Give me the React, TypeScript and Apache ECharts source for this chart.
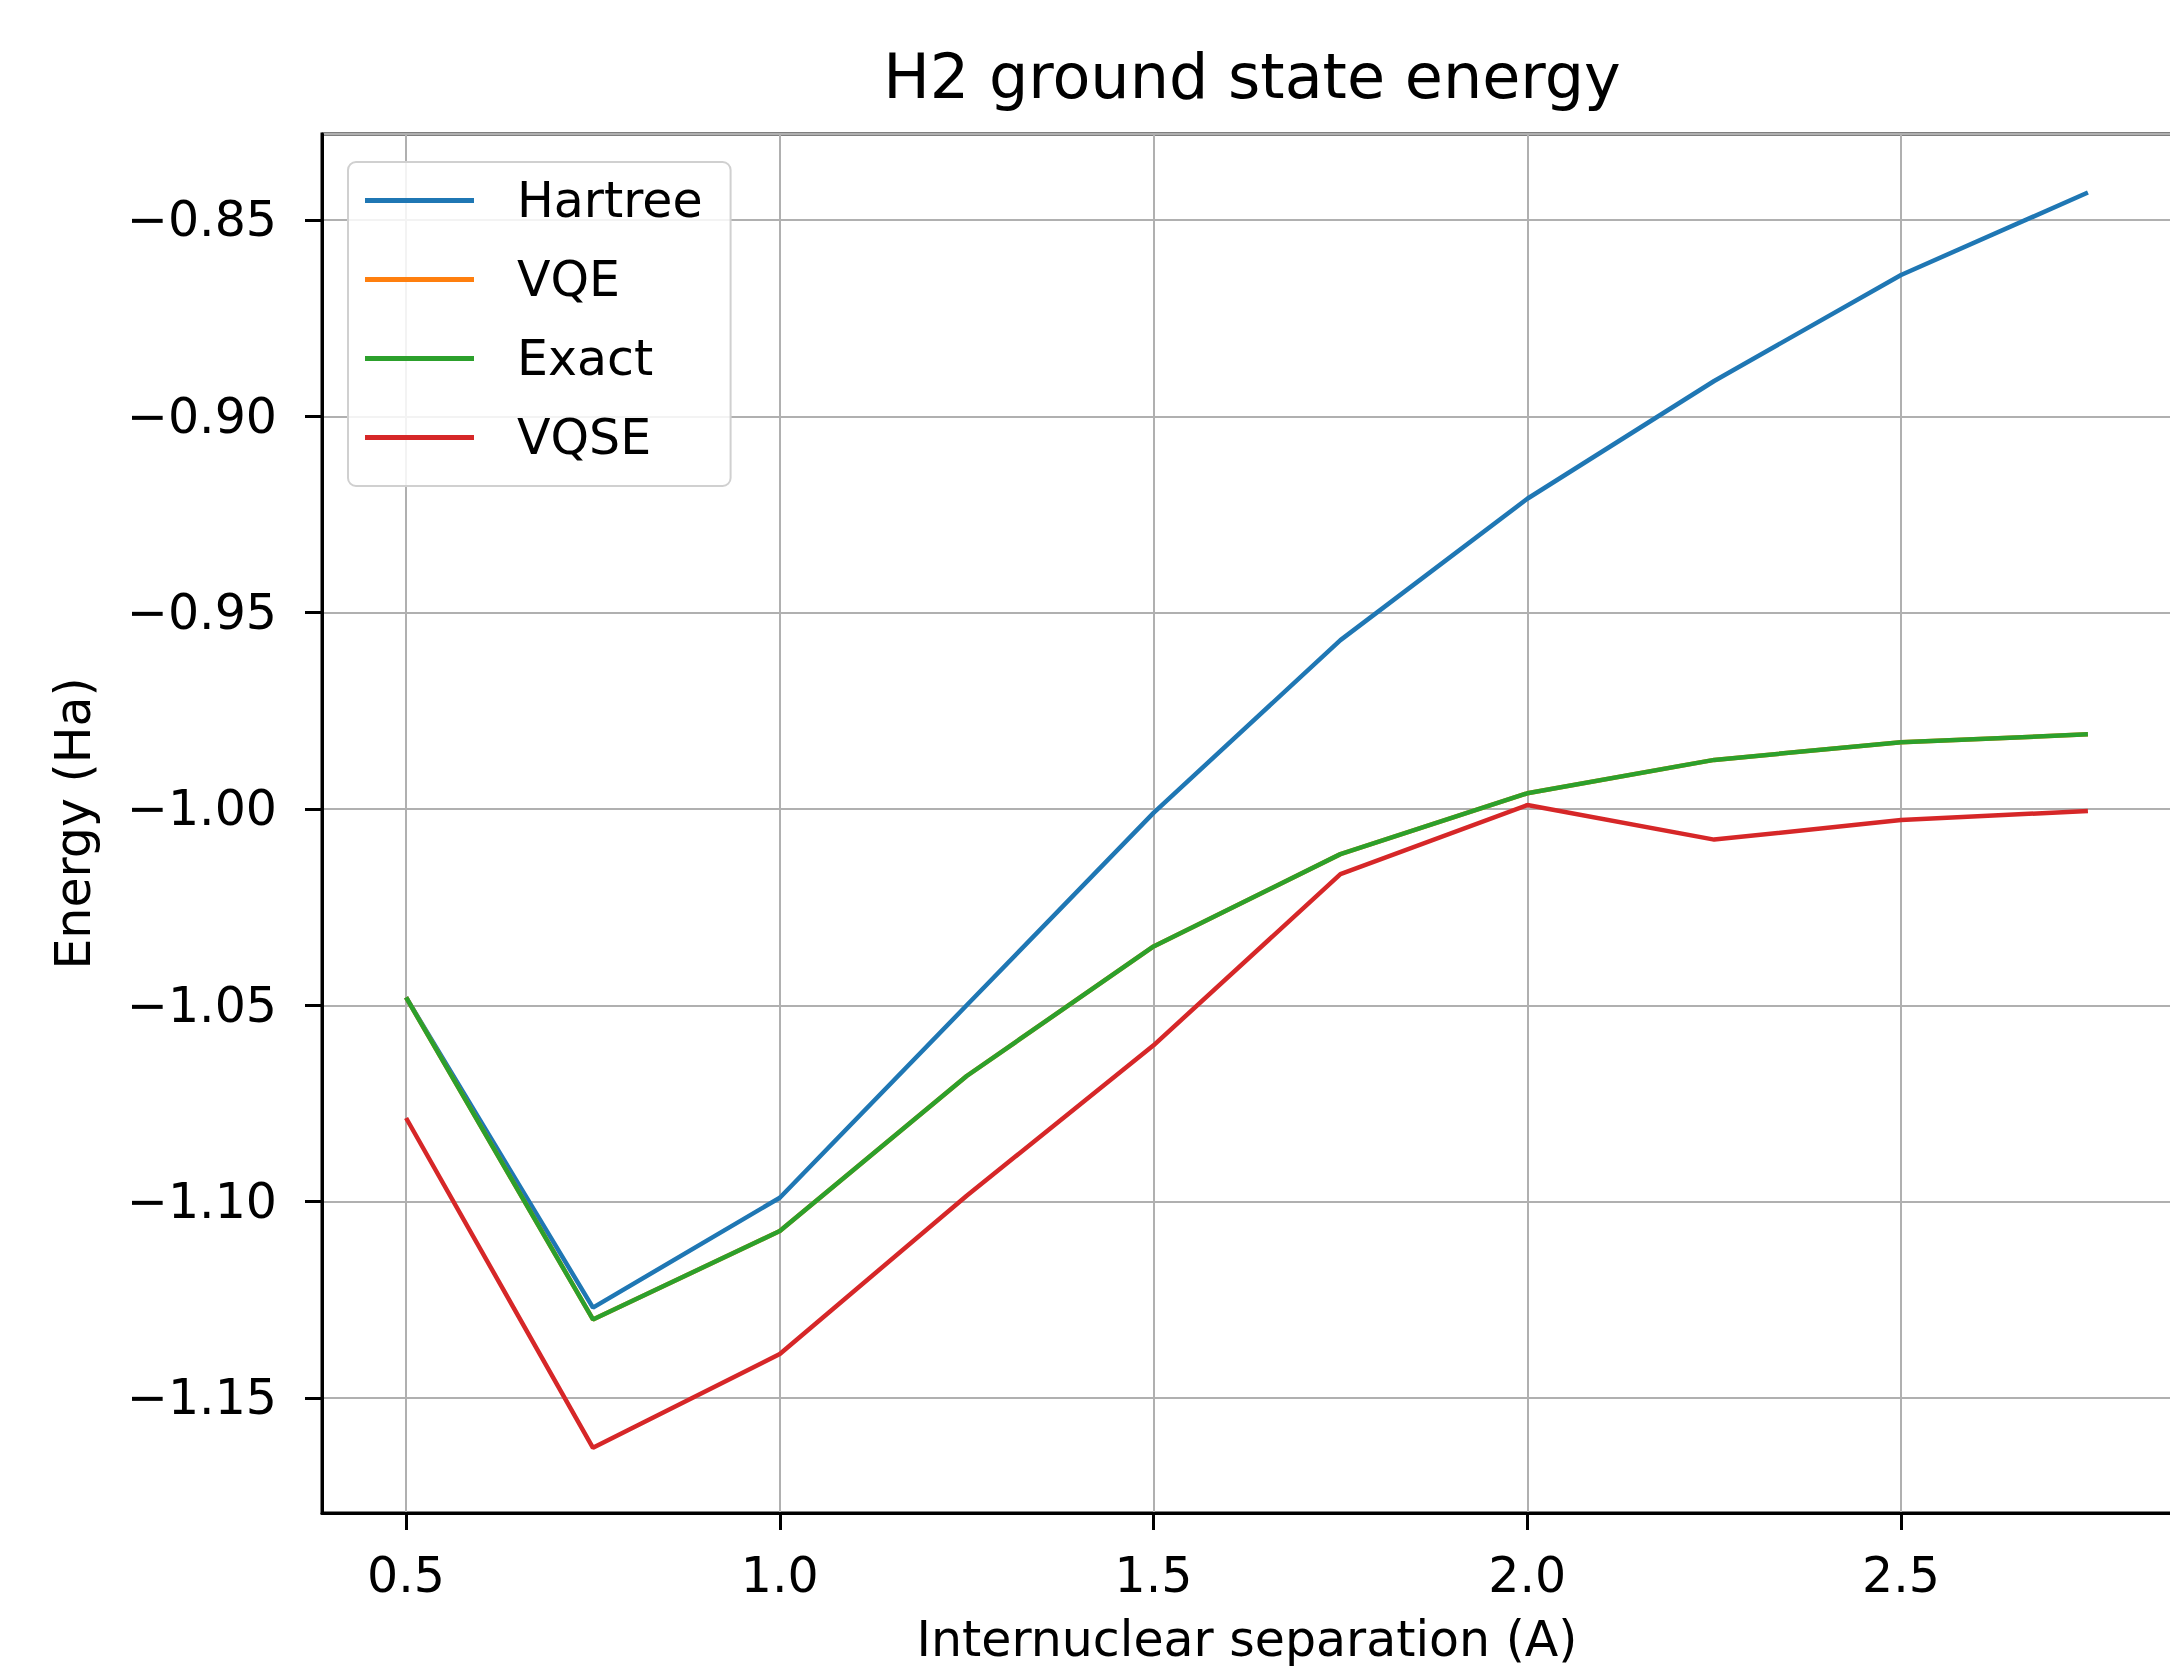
import React, { useEffect, useRef } from "react";
import * as echarts from "echarts";

const separations = [0.5, 0.75, 1.0, 1.25, 1.5, 1.75, 2.0, 2.25, 2.5, 2.75];
const hartree = [-1.048, -1.127, -1.099, -1.05, -1.001, -0.957, -0.921, -0.891, -0.864, -0.843];
const vqe = [-1.048, -1.13, -1.1075, -1.068, -1.035, -1.0115, -0.996, -0.9875, -0.983, -0.981];
const exact = [-1.048, -1.13, -1.1075, -1.068, -1.035, -1.0115, -0.996, -0.9875, -0.983, -0.981];
const vqse = [-1.0787, -1.1627, -1.1388, -1.0985, -1.0602, -1.0166, -0.999, -1.0078, -1.0028, -1.0005];

const seriesNames = ["Hartree", "VQE", "Exact", "VQSE"];
const seriesValues = [hartree, vqe, exact, vqse];
const seriesColors = ["#1f77b4", "#ff7f0e", "#2ca02c", "#d62728"];

const FONT = "DejaVu Sans";

export default function App() {
  const ref = useRef<HTMLDivElement>(null);
  useEffect(() => {
    if (!ref.current) return;
    const chart = echarts.init(ref.current, undefined, { renderer: "svg" });
    chart.setOption({
      animation: false,
      backgroundColor: "#ffffff",
      textStyle: { fontFamily: FONT },
      title: {
        text: "H2 ground state energy",
        left: 1247,
        top: 40,
        textAlign: "center",
        textStyle: { fontFamily: FONT, fontSize: 62, fontWeight: "normal", color: "#000" },
      },
      legend: {
        orient: "vertical",
        left: 348,
        top: 162,
        padding: [14, 28, 24, 17],
        itemGap: 30,
        itemWidth: 109,
        itemHeight: 5,
        icon: "rect",
        backgroundColor: "rgba(255,255,255,0.85)",
        borderColor: "#d0d0d0",
        borderWidth: 2,
        borderRadius: 8,
        textStyle: {
          fontFamily: FONT,
          fontSize: 49,
          lineHeight: 49,
          color: "#000",
          padding: [0, 0, 0, 38],
        },
        data: seriesNames,
      },
      grid: {
        left: 322,
        top: 134,
        width: 1850,
        height: 1379,
        show: true,
        borderColor: "#000",
        borderWidth: 3,
        containLabel: false,
        outerBoundsMode: "none",
      },
      xAxis: {
        type: "value",
        min: 0.3875,
        max: 2.8625,
        splitNumber: 5,
        minInterval: 0.5,
        maxInterval: 0.5,
        name: "Internuclear separation (A)",
        nameLocation: "middle",
        nameGap: 102,
        nameTextStyle: { fontFamily: FONT, fontSize: 49, lineHeight: 49, color: "#000" },
        axisLine: { show: true, lineStyle: { color: "#000", width: 3 } },
        axisTick: { show: true, length: 17, lineStyle: { color: "#000", width: 3 } },
        axisLabel: {
          show: true,
          margin: 38,
          fontFamily: FONT,
          fontSize: 49,
          lineHeight: 49,
          color: "#000",
          showMinLabel: false,
          showMaxLabel: false,
          formatter: (v: number) => v.toFixed(1),
        },
        splitLine: { show: true, lineStyle: { color: "#b0b0b0", width: 2 } },
      },
      yAxis: {
        type: "value",
        min: -1.1793,
        max: -0.8281,
        splitNumber: 7,
        minInterval: 0.05,
        maxInterval: 0.05,
        name: "Energy (Ha)",
        nameLocation: "middle",
        nameGap: 224,
        nameRotate: 90,
        nameTextStyle: { fontFamily: FONT, fontSize: 49, lineHeight: 49, color: "#000" },
        axisLine: { show: true, lineStyle: { color: "#000", width: 3 } },
        axisTick: { show: true, length: 17, lineStyle: { color: "#000", width: 3 } },
        axisLabel: {
          show: true,
          margin: 45,
          fontFamily: FONT,
          fontSize: 49,
          color: "#000",
          showMinLabel: false,
          showMaxLabel: false,
          formatter: (v: number) => (v < 0 ? "\u2212" : "") + Math.abs(v).toFixed(2),
        },
        splitLine: { show: true, lineStyle: { color: "#b0b0b0", width: 2 } },
      },
      series: seriesNames.map((name, i) => ({
        name,
        type: "line",
        showSymbol: false,
        symbol: "none",
        color: seriesColors[i],
        lineStyle: { color: seriesColors[i], width: 4.5 },
        data: separations.map((x, j) => [x, seriesValues[i][j]]),
      })),
    });
    return () => chart.dispose();
  }, []);
  return (
    <div
      ref={ref}
      style={{ position: "absolute", left: 0, top: 0, width: 2170, height: 1670, background: "#fff" }}
    />
  );
}
